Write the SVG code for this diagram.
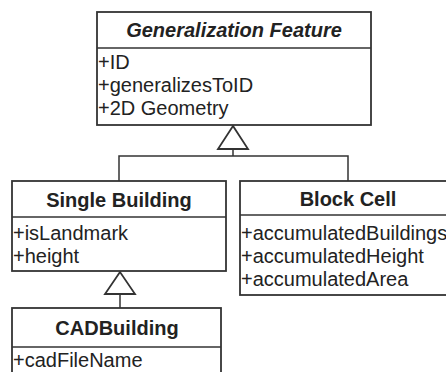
<svg xmlns="http://www.w3.org/2000/svg" width="446" height="372" viewBox="0 0 446 372">
<style>
.box{fill:#fff;stroke:#333;stroke-width:1.8}
.ln{fill:none;stroke:#333;stroke-width:1.5}
.tri{fill:#fff;stroke:#333;stroke-width:1.8}
.t{font-family:"Liberation Sans",Arial,sans-serif;font-size:20px;font-weight:bold;fill:#222;text-anchor:middle}
.a{font-family:"Liberation Sans",Arial,sans-serif;font-size:20px;fill:#222}
</style>
<rect width="446" height="372" fill="#fff"/>
<g id="connectors">
<polyline class="ln" points="119,181 119,156 348,156 348,181"/>
<line class="ln" x1="233" y1="149" x2="233" y2="156"/>
<polygon class="tri" points="233,126 218,149 248,149"/>
<line class="ln" x1="120" y1="294" x2="120" y2="308"/>
<polygon class="tri" points="120,272 105,294 135,294"/>
</g>
<g id="generalization-feature">
<rect class="box" x="97" y="12" width="274" height="113"/>
<line class="ln" x1="97" y1="48" x2="371" y2="48"/>
<text class="t" x="234" y="37" font-style="italic">Generalization Feature</text>
<text class="a" x="98" y="69">+ID</text>
<text class="a" x="98" y="92">+generalizesToID</text>
<text class="a" x="98" y="115">+2D Geometry</text>
</g>
<g id="single-building">
<rect class="box" x="12" y="181" width="214" height="90"/>
<line class="ln" x1="12" y1="217" x2="226" y2="217"/>
<text class="t" x="119" y="207">Single Building</text>
<text class="a" x="13" y="240">+isLandmark</text>
<text class="a" x="13" y="263">+height</text>
</g>
<g id="block-cell">
<rect class="box" x="240" y="181" width="216" height="114"/>
<line class="ln" x1="240" y1="215" x2="456" y2="215"/>
<text class="t" x="348" y="206">Block Cell</text>
<text class="a" x="241" y="240">+accumulatedBuildings</text>
<text class="a" x="241" y="263">+accumulatedHeight</text>
<text class="a" x="241" y="286">+accumulatedArea</text>
</g>
<g id="cadbuilding">
<rect class="box" x="12" y="308" width="209" height="80"/>
<line class="ln" x1="12" y1="347" x2="221" y2="347"/>
<text class="t" x="117" y="335">CADBuilding</text>
<text class="a" x="13" y="367">+cadFileName</text>
</g>
</svg>
